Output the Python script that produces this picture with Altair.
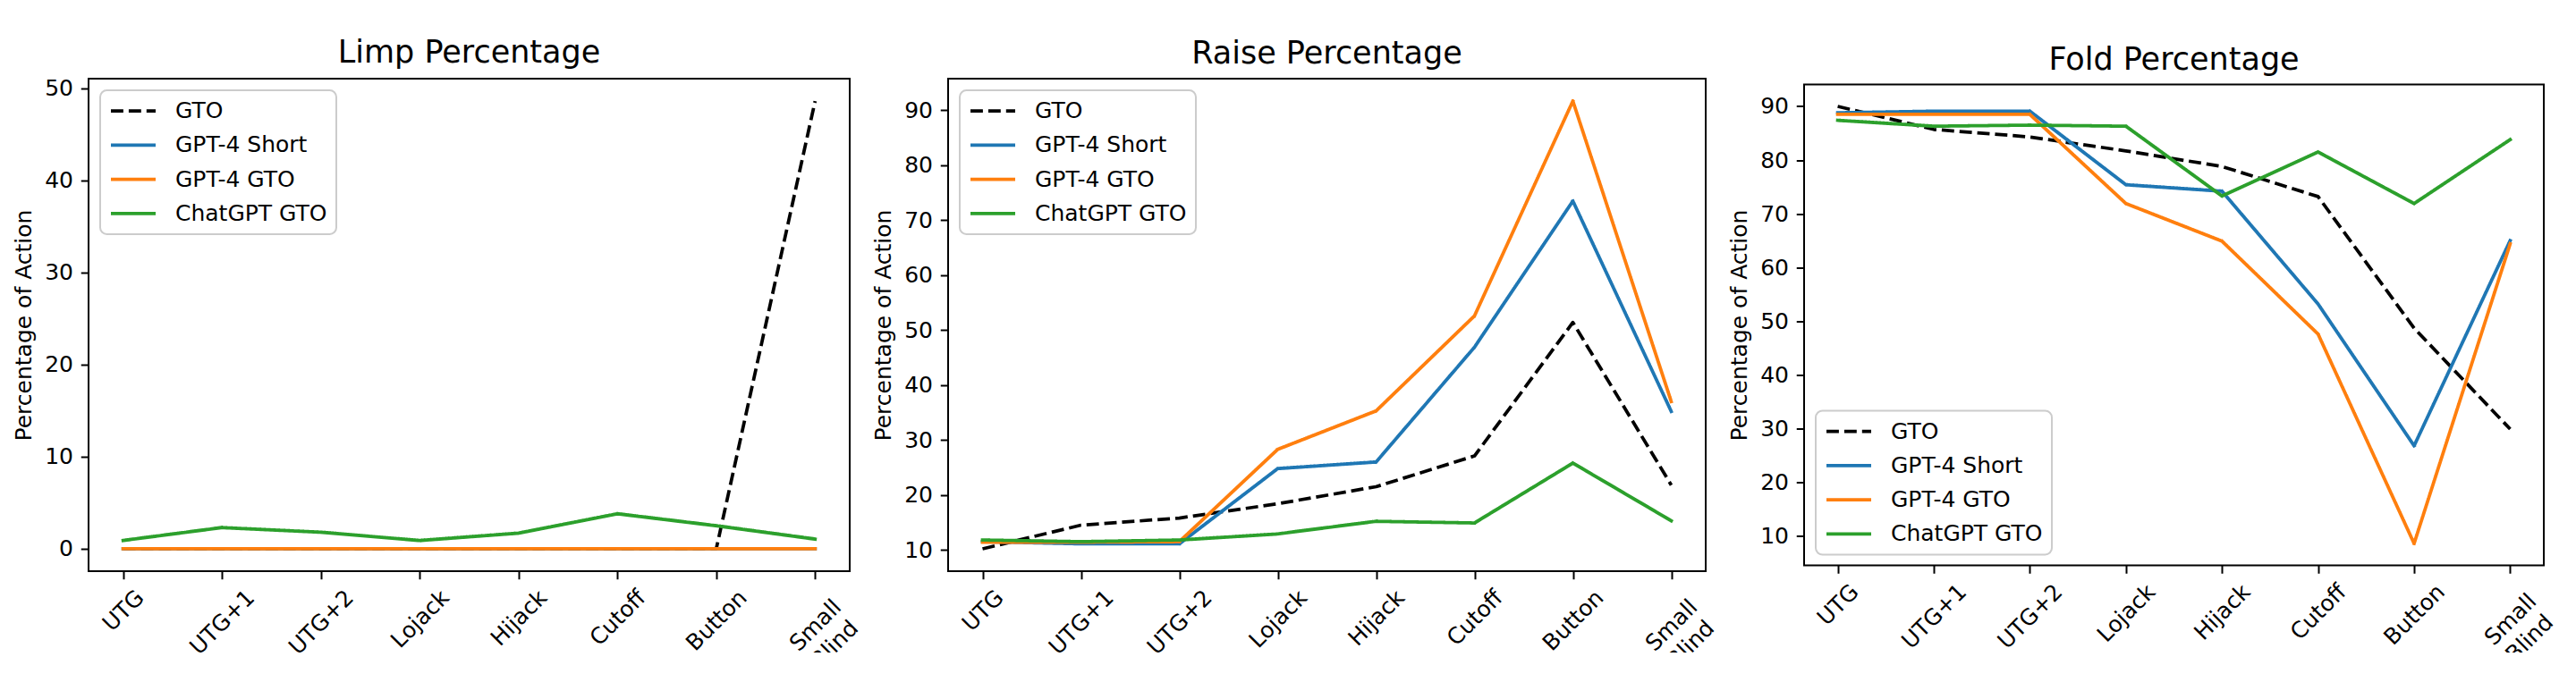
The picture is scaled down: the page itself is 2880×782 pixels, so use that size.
import altair as alt
import pandas as pd

FONT = "DejaVu Sans"

positions = ["UTG", "UTG+1", "UTG+2", "Lojack", "Hijack", "Cutoff", "Button", "Small Blind"]
series_names = ["GTO", "GPT-4 Short", "GPT-4 GTO", "ChatGPT GTO"]
series_colors = ["#000000", "#1f77b4", "#ff7f0e", "#2ca02c"]

# Limp percentage
limp_gto = [0, 0, 0, 0, 0, 0, 0, 48.6]
limp_gpt4_short = [0, 0, 0, 0, 0, 0, 0, 0]
limp_gpt4_gto = [0, 0, 0, 0, 0, 0, 0, 0]
limp_chatgpt_gto = [0.9, 2.3, 1.8, 0.9, 1.7, 3.8, 2.5, 1.05]

# Raise percentage
raise_gto = [10.2, 14.5, 15.8, 18.4, 21.5, 27.1, 51.4, 21.8]
raise_gpt4_short = [11.5, 11.1, 11.1, 24.8, 26.0, 46.9, 73.5, 35.2]
raise_gpt4_gto = [11.4, 11.4, 11.5, 28.3, 35.3, 52.6, 91.7, 37.0]
raise_chatgpt_gto = [11.8, 11.5, 11.8, 12.9, 15.2, 14.9, 25.8, 15.3]

# Fold percentage
fold_gto = [90.0, 85.7, 84.3, 81.7, 78.8, 73.2, 48.7, 29.9]
fold_gpt4_short = [88.8, 89.1, 89.1, 75.4, 74.2, 53.2, 26.8, 65.0]
fold_gpt4_gto = [88.5, 88.5, 88.5, 71.9, 64.9, 47.6, 8.6, 64.4]
fold_chatgpt_gto = [87.4, 86.3, 86.5, 86.3, 73.3, 81.5, 71.9, 83.8]

y_ticks_limp = [0, 10, 20, 30, 40, 50]
y_ticks_other = [10, 20, 30, 40, 50, 60, 70, 80, 90]

# per-label distance so each rotated label's box top sits just under its tick
label_pad = {
    "UTG": 35.0, "UTG+1": 48.0, "UTG+2": 48.0, "Lojack": 44.4,
    "Hijack": 43.2, "Cutoff": 43.1, "Button": 45.9, "Small Blind": 51.4,
}


def panel(title, series_values, width, height, orient, yticks):
    rows = []
    for name, vals in zip(series_names, series_values):
        for p, v in zip(positions, vals):
            rows.append({"position": p, "series": name, "value": v})
    df = pd.DataFrame(rows)
    lo = df["value"].min()
    hi = df["value"].max()
    m = 0.05 * (hi - lo)

    legend = alt.Legend(
        title=None, orient=orient, offset=12.5,
        symbolType="stroke", symbolSize=2500, symbolStrokeWidth=3.75,
        labelFont=FONT, labelFontSize=25, labelColor="black",
        labelOffset=20, rowPadding=12.3, padding=10, clipHeight=26,
        fillColor="rgba(255,255,255,0.8)", strokeColor="#cccccc",
        cornerRadius=7.5, labelLimit=400,
    )
    x_axis = alt.Axis(
        title=None, labelAngle=-45, labelAlign="center", labelBaseline="middle",
        labelOverlap=False, labelFlush=False, labelBound=False,
        labelLineHeight=30,
        labelExpr="datum.value === 'Small Blind' ? ['Small', 'Blind'] : datum.label",
        labelPadding={
            "condition": [
                {"test": f"datum.value === '{k}'", "value": v} for k, v in label_pad.items()
            ],
            "value": 44,
        },
    )
    y_axis = alt.Axis(values=yticks, title="Percentage of Action", labelPadding=8.75,
                      titlePadding=10, format="d")

    base = alt.Chart(df)
    layers = []
    for name in series_names:
        layers.append(
            base.transform_filter(alt.datum.series == name)
            .mark_line(strokeWidth=3.75, strokeJoin="round",
                       strokeCap="butt" if name == "GTO" else "square")
            .encode(
                x=alt.X("position:N", sort=positions,
                        scale=alt.Scale(domain=positions, padding=0.35), axis=x_axis),
                y=alt.Y("value:Q", scale=alt.Scale(domain=[lo - m, hi + m], nice=False, zero=False),
                        axis=y_axis),
                color=alt.Color("series:N", scale=alt.Scale(domain=series_names, range=series_colors),
                                legend=legend),
                strokeDash=alt.StrokeDash("series:N",
                                          scale=alt.Scale(domain=series_names,
                                                          range=[[13.9, 6], [1, 0], [1, 0], [1, 0]]),
                                          legend=legend),
            )
        )
    return alt.layer(*layers).properties(
        width=width, height=height,
        title=alt.TitleParams(title, baseline="alphabetic", offset=-18.3),
    )


p1 = panel("Limp Percentage", [limp_gto, limp_gpt4_short, limp_gpt4_gto, limp_chatgpt_gto],
           851, 551, "top-left", y_ticks_limp)
p2 = panel("Raise Percentage", [raise_gto, raise_gpt4_short, raise_gpt4_gto, raise_chatgpt_gto],
           847, 551, "top-left", y_ticks_other)
p3 = panel("Fold Percentage", [fold_gto, fold_gpt4_short, fold_gpt4_gto, fold_chatgpt_gto],
           827, 538, "bottom-left", y_ticks_other)

chart = (
    alt.hconcat(p1, p2, p3, spacing=110, bounds="flush", center=True)
    .resolve_scale(color="independent", strokeDash="independent")
    .properties(
        autosize=alt.AutoSizeParams(type="none"),
        padding={"left": 91, "top": 80, "right": 2773, "bottom": 642},
    )
    .configure_view(stroke="black", strokeWidth=2)
    .configure_axis(
        domain=False, grid=False, tickColor="black", tickWidth=2, tickSize=8.75,
        labelColor="black", labelFont=FONT, labelFontSize=25,
        titleFont=FONT, titleFontSize=25, titleFontWeight="normal", titleColor="black",
    )
    .configure_title(font=FONT, fontSize=35, fontWeight="normal", color="black", anchor="middle")
    .configure_legend(strokeWidth=2)
)

chart.save("out.html", embed_options={"renderer": "svg", "actions": False})
